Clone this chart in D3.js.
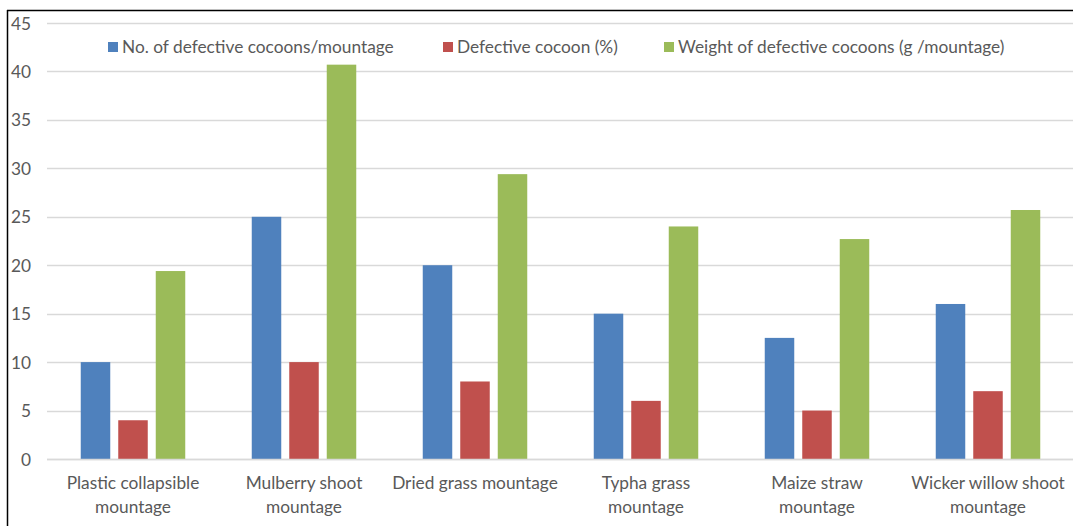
<!DOCTYPE html>
<html>
<head>
<meta charset="utf-8">
<script src="https://cdn.jsdelivr.net/npm/d3@7"></script>
<style>
  html, body { margin: 0; padding: 0; background: #fff; }
  svg { display: block; }
  text { font-family: Lato, "Open Sans", sans-serif; fill: #595959; }
</style>
</head>
<body>
<svg id="chart" width="1073" height="526"></svg>
<script>
// Mountage types (label lines)
const categories = [
  ["Plastic collapsible", "mountage"],
  ["Mulberry shoot", "mountage"],
  ["Dried grass mountage"],
  ["Typha grass", "mountage"],
  ["Maize straw", "mountage"],
  ["Wicker willow shoot", "mountage"]
];
const seriesNames = [
  "No. of defective cocoons/mountage",
  "Defective cocoon (%)",
  "Weight of defective cocoons (g /mountage)"
];
const defectiveCount = [10, 25, 20, 15, 12.5, 16];
const defectivePct = [4, 10, 8, 6, 5, 7];
const defectiveWeight = [19.4, 40.7, 29.4, 24, 22.7, 25.7];
const yTicks = [0, 5, 10, 15, 20, 25, 30, 35, 40, 45];
const colors = ["#4f81bd", "#c0504d", "#9bbb59"];

const series = [defectiveCount, defectivePct, defectiveWeight];

const svg = d3.select("#chart");
const W = 1073, H = 526;
const FS = 17.3;

// Chart frame (left and top edges)
svg.append("line").attr("x1", 7.5).attr("x2", 7.5).attr("y1", 10).attr("y2", H)
  .attr("stroke", "#000").attr("stroke-width", 1.5);
svg.append("line").attr("x1", 7).attr("x2", W).attr("y1", 10.5).attr("y2", 10.5)
  .attr("stroke", "#000").attr("stroke-width", 1.5);

const x0 = d3.scaleBand().domain(d3.range(categories.length)).range([47.5, 1073.5]).paddingInner(0).paddingOuter(0);
const y = d3.scaleLinear().domain([0, 45]).range([459, 23]);

// Gridlines
svg.append("g").selectAll("line").data(yTicks).join("line")
  .attr("x1", 47).attr("x2", W)
  .attr("y1", d => Math.round(y(d)) + 0.5).attr("y2", d => Math.round(y(d)) + 0.5)
  .attr("stroke", "#d9d9d9").attr("stroke-width", 1.5);

// Y axis tick labels
const yAxis = d3.axisLeft(y).tickValues(yTicks).tickSize(0).tickPadding(0);
const yg = svg.append("g").attr("transform", "translate(31,0)").call(yAxis);
yg.select(".domain").remove();
yg.selectAll("text").attr("font-size", FS).attr("font-family", "Lato, 'Open Sans', sans-serif")
  .attr("fill", "#595959").attr("dy", "0.35em");

// Bars
const barW = 29.5, gap = 8;
const groupW = 3 * barW + 2 * gap;
const xs = d3.scaleBand().domain(d3.range(3)).range([0, groupW]).paddingInner(gap / (barW + gap)).paddingOuter(0);
series.forEach((vals, s) => {
  svg.append("g").selectAll("rect").data(vals).join("rect")
    .attr("x", (d, i) => x0(i) + (x0.bandwidth() - groupW) / 2 + xs(s))
    .attr("width", xs.bandwidth())
    .attr("y", d => y(d))
    .attr("height", d => y(0) - y(d))
    .attr("fill", colors[s]);
});

// Baseline
svg.append("line").attr("x1", 47).attr("x2", W).attr("y1", 459.5).attr("y2", 459.5)
  .attr("stroke", "#d9d9d9").attr("stroke-width", 1.5);

// Category labels
const catG = svg.append("g").selectAll("text").data(categories).join("text")
  .attr("text-anchor", "middle")
  .attr("font-size", FS)
  .attr("x", (d, i) => x0(i) + x0.bandwidth() / 2)
  .attr("y", 489);
catG.selectAll("tspan").data(d => d).join("tspan")
  .attr("x", function () { return d3.select(this.parentNode).attr("x"); })
  .attr("dy", (d, i) => i === 0 ? 0 : 24)
  .text(d => d);

// Legend
const legendX = [108, 443, 664];
const lg = svg.append("g").selectAll("g").data(seriesNames).join("g")
  .attr("transform", (d, i) => `translate(${legendX[i]},47)`);
lg.append("rect").attr("x", 0).attr("y", -5).attr("width", 10).attr("height", 10)
  .attr("fill", (d, i) => colors[i]);
lg.append("text").attr("x", 14).attr("y", 0).attr("dy", "0.35em")
  .attr("font-size", FS).text(d => d);
</script>
</body>
</html>
